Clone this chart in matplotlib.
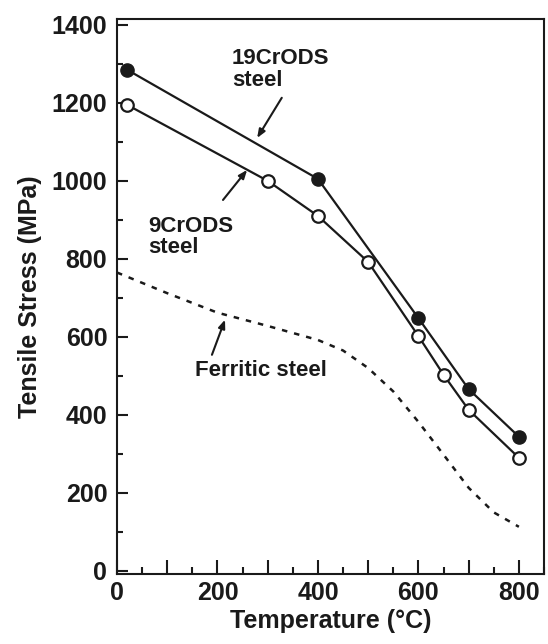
import matplotlib.pyplot as plt
from matplotlib.ticker import MultipleLocator, FuncFormatter

# 19CrODS steel (filled circles)
cr19_temp = [20, 400, 600, 700, 800]
cr19_stress = [1285, 1005, 648, 466, 344]

# 9CrODS steel (open circles)
cr9_temp = [20, 300, 400, 500, 600, 650, 700, 800]
cr9_stress = [1195, 1000, 910, 792, 602, 503, 413, 290]

# ferritic steel (dashed curve)
fer_temp = [0, 100, 200, 300, 400, 450, 500, 550, 600, 650, 700, 750, 800]
fer_stress = [765, 712, 662, 628, 592, 565, 520, 460, 382, 298, 213, 150, 113]

plt.rcParams['font.family'] = ['Liberation Sans', 'DejaVu Sans']
plt.rcParams['font.weight'] = 'bold'
ink = '#1a1a1a'

fig = plt.figure(figsize=(5.48, 6.44), dpi=100)
ax = fig.add_axes([0.2135, 0.1087, 0.7792, 0.8618])

ax.plot(fer_temp, fer_stress, color=ink, lw=1.8, ls=(0, (2.2, 2.8)))
ax.plot(cr19_temp, cr19_stress, color=ink, lw=1.6, marker='o', ms=9.5,
        mfc=ink, mec=ink, zorder=3)
ax.plot(cr9_temp, cr9_stress, color=ink, lw=1.6, marker='o', ms=9,
        mfc='white', mec=ink, mew=1.6, zorder=3)

ax.set_xlim(0, 850)
ax.set_ylim(-8, 1415)

ax.xaxis.set_major_locator(MultipleLocator(100))
ax.xaxis.set_minor_locator(MultipleLocator(50))
ax.xaxis.set_major_formatter(FuncFormatter(lambda v, p: '%d' % v if v % 200 == 0 else ''))
ax.yaxis.set_major_locator(MultipleLocator(200))
ax.yaxis.set_minor_locator(MultipleLocator(100))

ax.tick_params(axis='x', which='major', direction='in', length=10, width=1.5, labelsize=18, pad=5, colors=ink)
ax.tick_params(axis='x', which='minor', direction='in', length=5, width=1.5, colors=ink)
ax.tick_params(axis='y', which='major', direction='in', length=8, width=1.5, labelsize=18, pad=7, colors=ink)
ax.tick_params(axis='y', which='minor', direction='in', length=4, width=1.5, colors=ink)
for s in ax.spines.values():
    s.set_linewidth(1.5)
    s.set_color(ink)

ax.set_xlabel('Temperature (°C)', fontsize=18, fontweight='bold', color=ink, labelpad=3)
ax.set_ylabel('Tensile Stress (MPa)', fontsize=18, fontweight='bold', color=ink, labelpad=7)

arrow = dict(arrowstyle='-|>,head_length=0.5,head_width=0.2', color=ink, lw=1.5,
             shrinkA=0, shrinkB=0)
ax.annotate('', xy=(279, 1110), xytext=(328, 1213), arrowprops=arrow)
ax.text(229, 1285, '19CrODS\nsteel', fontsize=16, fontweight='bold', color=ink,
        ha='left', va='center', linespacing=1.05)
ax.annotate('', xy=(259, 1028), xytext=(211, 951), arrowprops=arrow)
ax.text(62, 856, '9CrODS\nsteel', fontsize=16, fontweight='bold', color=ink,
        ha='left', va='center', linespacing=1.05)
ax.annotate('', xy=(215, 644), xytext=(189, 554), arrowprops=arrow)
ax.text(155, 515, 'Ferritic steel', fontsize=16, fontweight='bold', color=ink,
        ha='left', va='center')

fig.savefig('out.png', dpi=100)
